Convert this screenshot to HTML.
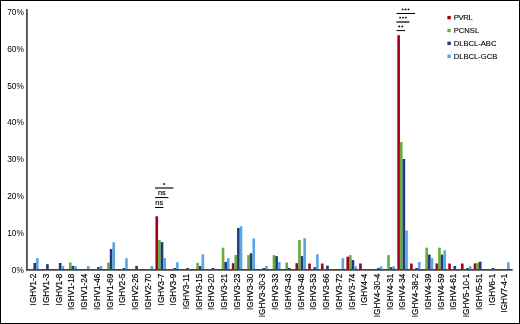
<!DOCTYPE html>
<html><head><meta charset="utf-8"><style>
html,body{margin:0;padding:0;background:#fff;}
body{width:520px;height:324px;overflow:hidden;position:relative;}
#f{position:absolute;left:0;top:0;width:518px;height:322px;border:1px solid #000;background:#fff;}
svg{position:absolute;left:0;top:0;will-change:transform;}
text{font-family:"Liberation Sans",sans-serif;fill:#000;}
</style></head><body><div id="f"></div>
<svg width="520" height="324" viewBox="0 0 520 324">
<rect x="33.40" y="262.90" width="2.63" height="6.20" fill="#1e3a78"/>
<rect x="36.03" y="258.10" width="2.63" height="11.00" fill="#5aa5e3"/>
<rect x="46.13" y="264.20" width="2.63" height="4.90" fill="#1e3a78"/>
<rect x="58.86" y="263.00" width="2.63" height="6.10" fill="#1e3a78"/>
<rect x="61.49" y="266.00" width="2.63" height="3.10" fill="#5aa5e3"/>
<rect x="68.96" y="262.40" width="2.63" height="6.70" fill="#68ad3c"/>
<rect x="71.59" y="265.90" width="2.63" height="3.20" fill="#1e3a78"/>
<rect x="74.22" y="266.10" width="2.63" height="3.00" fill="#5aa5e3"/>
<rect x="86.95" y="266.10" width="2.63" height="3.00" fill="#5aa5e3"/>
<rect x="97.05" y="267.10" width="2.63" height="2.00" fill="#1e3a78"/>
<rect x="99.68" y="266.10" width="2.63" height="3.00" fill="#5aa5e3"/>
<rect x="107.15" y="262.60" width="2.63" height="6.50" fill="#68ad3c"/>
<rect x="109.78" y="249.00" width="2.63" height="20.10" fill="#1e3a78"/>
<rect x="112.41" y="242.30" width="2.63" height="26.80" fill="#5aa5e3"/>
<rect x="122.51" y="268.00" width="2.63" height="1.10" fill="#1e3a78"/>
<rect x="125.14" y="258.20" width="2.63" height="10.90" fill="#5aa5e3"/>
<rect x="135.24" y="265.90" width="2.63" height="3.20" fill="#1e3a78"/>
<rect x="150.60" y="266.00" width="2.63" height="3.10" fill="#5aa5e3"/>
<rect x="155.44" y="216.30" width="2.63" height="52.80" fill="#a5001f"/>
<rect x="158.07" y="240.00" width="2.63" height="29.10" fill="#68ad3c"/>
<rect x="160.70" y="242.10" width="2.63" height="27.00" fill="#1e3a78"/>
<rect x="163.33" y="258.00" width="2.63" height="11.10" fill="#5aa5e3"/>
<rect x="173.43" y="268.00" width="2.63" height="1.10" fill="#1e3a78"/>
<rect x="176.06" y="262.20" width="2.63" height="6.90" fill="#5aa5e3"/>
<rect x="186.16" y="268.00" width="2.63" height="1.10" fill="#1e3a78"/>
<rect x="196.26" y="262.90" width="2.63" height="6.20" fill="#68ad3c"/>
<rect x="198.89" y="266.00" width="2.63" height="3.10" fill="#1e3a78"/>
<rect x="201.52" y="254.30" width="2.63" height="14.80" fill="#5aa5e3"/>
<rect x="211.62" y="268.00" width="2.63" height="1.10" fill="#1e3a78"/>
<rect x="221.72" y="247.70" width="2.63" height="21.40" fill="#68ad3c"/>
<rect x="224.35" y="261.90" width="2.63" height="7.20" fill="#1e3a78"/>
<rect x="226.98" y="258.10" width="2.63" height="11.00" fill="#5aa5e3"/>
<rect x="231.82" y="263.20" width="2.63" height="5.90" fill="#a5001f"/>
<rect x="234.45" y="255.00" width="2.63" height="14.10" fill="#68ad3c"/>
<rect x="237.08" y="228.00" width="2.63" height="41.10" fill="#1e3a78"/>
<rect x="239.71" y="226.30" width="2.63" height="42.80" fill="#5aa5e3"/>
<rect x="247.18" y="255.10" width="2.63" height="14.00" fill="#68ad3c"/>
<rect x="249.81" y="253.20" width="2.63" height="15.90" fill="#1e3a78"/>
<rect x="252.44" y="238.40" width="2.63" height="30.70" fill="#5aa5e3"/>
<rect x="262.54" y="268.00" width="2.63" height="1.10" fill="#1e3a78"/>
<rect x="265.17" y="266.00" width="2.63" height="3.10" fill="#5aa5e3"/>
<rect x="272.64" y="255.10" width="2.63" height="14.00" fill="#68ad3c"/>
<rect x="275.27" y="256.10" width="2.63" height="13.00" fill="#1e3a78"/>
<rect x="277.90" y="262.00" width="2.63" height="7.10" fill="#5aa5e3"/>
<rect x="285.37" y="262.60" width="2.63" height="6.50" fill="#68ad3c"/>
<rect x="288.00" y="268.00" width="2.63" height="1.10" fill="#1e3a78"/>
<rect x="295.47" y="263.20" width="2.63" height="5.90" fill="#a5001f"/>
<rect x="298.10" y="240.00" width="2.63" height="29.10" fill="#68ad3c"/>
<rect x="300.73" y="256.10" width="2.63" height="13.00" fill="#1e3a78"/>
<rect x="303.36" y="238.20" width="2.63" height="30.90" fill="#5aa5e3"/>
<rect x="308.20" y="263.50" width="2.63" height="5.60" fill="#a5001f"/>
<rect x="313.46" y="267.20" width="2.63" height="1.90" fill="#1e3a78"/>
<rect x="316.09" y="254.20" width="2.63" height="14.90" fill="#5aa5e3"/>
<rect x="320.93" y="263.50" width="2.63" height="5.60" fill="#a5001f"/>
<rect x="326.19" y="265.70" width="2.63" height="3.40" fill="#1e3a78"/>
<rect x="341.55" y="258.20" width="2.63" height="10.90" fill="#5aa5e3"/>
<rect x="346.39" y="256.70" width="2.63" height="12.40" fill="#a5001f"/>
<rect x="349.02" y="255.10" width="2.63" height="14.00" fill="#68ad3c"/>
<rect x="351.65" y="260.10" width="2.63" height="9.00" fill="#1e3a78"/>
<rect x="354.28" y="266.20" width="2.63" height="2.90" fill="#5aa5e3"/>
<rect x="359.12" y="263.50" width="2.63" height="5.60" fill="#a5001f"/>
<rect x="377.11" y="268.00" width="2.63" height="1.10" fill="#1e3a78"/>
<rect x="379.74" y="266.30" width="2.63" height="2.80" fill="#5aa5e3"/>
<rect x="387.21" y="255.10" width="2.63" height="14.00" fill="#68ad3c"/>
<rect x="389.84" y="267.20" width="2.63" height="1.90" fill="#1e3a78"/>
<rect x="392.47" y="266.30" width="2.63" height="2.80" fill="#5aa5e3"/>
<rect x="397.31" y="35.20" width="2.63" height="233.90" fill="#a5001f"/>
<rect x="399.94" y="142.00" width="2.63" height="127.10" fill="#68ad3c"/>
<rect x="402.57" y="159.00" width="2.63" height="110.10" fill="#1e3a78"/>
<rect x="405.20" y="230.40" width="2.63" height="38.70" fill="#5aa5e3"/>
<rect x="410.04" y="263.50" width="2.63" height="5.60" fill="#a5001f"/>
<rect x="415.30" y="268.00" width="2.63" height="1.10" fill="#1e3a78"/>
<rect x="417.93" y="262.00" width="2.63" height="7.10" fill="#5aa5e3"/>
<rect x="425.40" y="247.70" width="2.63" height="21.40" fill="#68ad3c"/>
<rect x="428.03" y="254.60" width="2.63" height="14.50" fill="#1e3a78"/>
<rect x="430.66" y="258.20" width="2.63" height="10.90" fill="#5aa5e3"/>
<rect x="435.50" y="263.50" width="2.63" height="5.60" fill="#a5001f"/>
<rect x="438.13" y="247.70" width="2.63" height="21.40" fill="#68ad3c"/>
<rect x="440.76" y="254.60" width="2.63" height="14.50" fill="#1e3a78"/>
<rect x="443.39" y="250.30" width="2.63" height="18.80" fill="#5aa5e3"/>
<rect x="448.23" y="263.50" width="2.63" height="5.60" fill="#a5001f"/>
<rect x="453.49" y="266.00" width="2.63" height="3.10" fill="#1e3a78"/>
<rect x="460.96" y="263.50" width="2.63" height="5.60" fill="#a5001f"/>
<rect x="466.22" y="268.00" width="2.63" height="1.10" fill="#1e3a78"/>
<rect x="468.85" y="266.20" width="2.63" height="2.90" fill="#5aa5e3"/>
<rect x="473.69" y="263.40" width="2.63" height="5.70" fill="#a5001f"/>
<rect x="476.32" y="262.70" width="2.63" height="6.40" fill="#68ad3c"/>
<rect x="478.95" y="261.70" width="2.63" height="7.40" fill="#1e3a78"/>
<rect x="491.68" y="268.00" width="2.63" height="1.10" fill="#1e3a78"/>
<rect x="507.04" y="262.20" width="2.63" height="6.90" fill="#5aa5e3"/>
<line x1="26.90" y1="9" x2="26.90" y2="270.65" stroke="#444" stroke-width="1.70"/>
<line x1="26.05" y1="269.80" x2="512.7" y2="269.80" stroke="#444" stroke-width="1.70"/>
<text x="23.8" y="272.80" font-size="8.30" text-anchor="end">0%</text>
<text x="23.8" y="235.94" font-size="8.30" text-anchor="end">10%</text>
<text x="23.8" y="199.08" font-size="8.30" text-anchor="end">20%</text>
<text x="23.8" y="162.22" font-size="8.30" text-anchor="end">30%</text>
<text x="23.8" y="125.36" font-size="8.30" text-anchor="end">40%</text>
<text x="23.8" y="88.50" font-size="8.30" text-anchor="end">50%</text>
<text x="23.8" y="51.64" font-size="8.30" text-anchor="end">60%</text>
<text x="23.8" y="14.78" font-size="8.30" text-anchor="end">70%</text>
<text transform="translate(36.25,273.6) rotate(-90) scale(1.022,1.200)" font-size="8.00" text-anchor="end" stroke="#000" stroke-width="0.15">IGHV1-2</text>
<text transform="translate(48.98,273.6) rotate(-90) scale(1.022,1.200)" font-size="8.00" text-anchor="end" stroke="#000" stroke-width="0.15">IGHV1-3</text>
<text transform="translate(61.71,273.6) rotate(-90) scale(1.022,1.200)" font-size="8.00" text-anchor="end" stroke="#000" stroke-width="0.15">IGHV1-8</text>
<text transform="translate(74.44,273.6) rotate(-90) scale(1.022,1.200)" font-size="8.00" text-anchor="end" stroke="#000" stroke-width="0.15">IGHV1-18</text>
<text transform="translate(87.17,273.6) rotate(-90) scale(1.022,1.200)" font-size="8.00" text-anchor="end" stroke="#000" stroke-width="0.15">IGHV1-24</text>
<text transform="translate(99.90,273.6) rotate(-90) scale(1.022,1.200)" font-size="8.00" text-anchor="end" stroke="#000" stroke-width="0.15">IGHV1-46</text>
<text transform="translate(112.63,273.6) rotate(-90) scale(1.022,1.200)" font-size="8.00" text-anchor="end" stroke="#000" stroke-width="0.15">IGHV1-69</text>
<text transform="translate(125.36,273.6) rotate(-90) scale(1.022,1.200)" font-size="8.00" text-anchor="end" stroke="#000" stroke-width="0.15">IGHV2-5</text>
<text transform="translate(138.09,273.6) rotate(-90) scale(1.022,1.200)" font-size="8.00" text-anchor="end" stroke="#000" stroke-width="0.15">IGHV2-26</text>
<text transform="translate(150.82,273.6) rotate(-90) scale(1.022,1.200)" font-size="8.00" text-anchor="end" stroke="#000" stroke-width="0.15">IGHV2-70</text>
<text transform="translate(163.55,273.6) rotate(-90) scale(1.022,1.200)" font-size="8.00" text-anchor="end" stroke="#000" stroke-width="0.15">IGHV3-7</text>
<text transform="translate(176.28,273.6) rotate(-90) scale(1.022,1.200)" font-size="8.00" text-anchor="end" stroke="#000" stroke-width="0.15">IGHV3-9</text>
<text transform="translate(189.01,273.6) rotate(-90) scale(1.022,1.200)" font-size="8.00" text-anchor="end" stroke="#000" stroke-width="0.15">IGHV3-11</text>
<text transform="translate(201.74,273.6) rotate(-90) scale(1.022,1.200)" font-size="8.00" text-anchor="end" stroke="#000" stroke-width="0.15">IGHV3-15</text>
<text transform="translate(214.47,273.6) rotate(-90) scale(1.022,1.200)" font-size="8.00" text-anchor="end" stroke="#000" stroke-width="0.15">IGHV3-20</text>
<text transform="translate(227.20,273.6) rotate(-90) scale(1.022,1.200)" font-size="8.00" text-anchor="end" stroke="#000" stroke-width="0.15">IGHV3-21</text>
<text transform="translate(239.93,273.6) rotate(-90) scale(1.022,1.200)" font-size="8.00" text-anchor="end" stroke="#000" stroke-width="0.15">IGHV3-23</text>
<text transform="translate(252.66,273.6) rotate(-90) scale(1.022,1.200)" font-size="8.00" text-anchor="end" stroke="#000" stroke-width="0.15">IGHV3-30</text>
<text transform="translate(265.39,273.6) rotate(-90) scale(1.022,1.200)" font-size="8.00" text-anchor="end" stroke="#000" stroke-width="0.15">IGHV3-30-3</text>
<text transform="translate(278.12,273.6) rotate(-90) scale(1.022,1.200)" font-size="8.00" text-anchor="end" stroke="#000" stroke-width="0.15">IGHV3-33</text>
<text transform="translate(290.85,273.6) rotate(-90) scale(1.022,1.200)" font-size="8.00" text-anchor="end" stroke="#000" stroke-width="0.15">IGHV3-43</text>
<text transform="translate(303.58,273.6) rotate(-90) scale(1.022,1.200)" font-size="8.00" text-anchor="end" stroke="#000" stroke-width="0.15">IGHV3-48</text>
<text transform="translate(316.31,273.6) rotate(-90) scale(1.022,1.200)" font-size="8.00" text-anchor="end" stroke="#000" stroke-width="0.15">IGHV3-53</text>
<text transform="translate(329.04,273.6) rotate(-90) scale(1.022,1.200)" font-size="8.00" text-anchor="end" stroke="#000" stroke-width="0.15">IGHV3-66</text>
<text transform="translate(341.77,273.6) rotate(-90) scale(1.022,1.200)" font-size="8.00" text-anchor="end" stroke="#000" stroke-width="0.15">IGHV3-72</text>
<text transform="translate(354.50,273.6) rotate(-90) scale(1.022,1.200)" font-size="8.00" text-anchor="end" stroke="#000" stroke-width="0.15">IGHV3-74</text>
<text transform="translate(367.23,273.6) rotate(-90) scale(1.022,1.200)" font-size="8.00" text-anchor="end" stroke="#000" stroke-width="0.15">IGHV4-4</text>
<text transform="translate(379.96,273.6) rotate(-90) scale(1.022,1.200)" font-size="8.00" text-anchor="end" stroke="#000" stroke-width="0.15">IGHV4-30-4</text>
<text transform="translate(392.69,273.6) rotate(-90) scale(1.022,1.200)" font-size="8.00" text-anchor="end" stroke="#000" stroke-width="0.15">IGHV4-31</text>
<text transform="translate(405.42,273.6) rotate(-90) scale(1.022,1.200)" font-size="8.00" text-anchor="end" stroke="#000" stroke-width="0.15">IGHV4-34</text>
<text transform="translate(418.15,273.6) rotate(-90) scale(1.022,1.200)" font-size="8.00" text-anchor="end" stroke="#000" stroke-width="0.15">IGHV4-38-2</text>
<text transform="translate(430.88,273.6) rotate(-90) scale(1.022,1.200)" font-size="8.00" text-anchor="end" stroke="#000" stroke-width="0.15">IGHV4-39</text>
<text transform="translate(443.61,273.6) rotate(-90) scale(1.022,1.200)" font-size="8.00" text-anchor="end" stroke="#000" stroke-width="0.15">IGHV4-59</text>
<text transform="translate(456.34,273.6) rotate(-90) scale(1.022,1.200)" font-size="8.00" text-anchor="end" stroke="#000" stroke-width="0.15">IGHV4-61</text>
<text transform="translate(469.07,273.6) rotate(-90) scale(1.022,1.200)" font-size="8.00" text-anchor="end" stroke="#000" stroke-width="0.15">IGHV5-10-1</text>
<text transform="translate(481.80,273.6) rotate(-90) scale(1.022,1.200)" font-size="8.00" text-anchor="end" stroke="#000" stroke-width="0.15">IGHV5-51</text>
<text transform="translate(494.53,273.6) rotate(-90) scale(1.022,1.200)" font-size="8.00" text-anchor="end" stroke="#000" stroke-width="0.15">IGHV6-1</text>
<text transform="translate(507.26,273.6) rotate(-90) scale(1.022,1.200)" font-size="8.00" text-anchor="end" stroke="#000" stroke-width="0.15">IGHV7-4-1</text>
<rect x="447.4" y="15.90" width="3.4" height="3.4" fill="#a5001f"/>
<text x="453.8" y="19.90" font-size="7.6" stroke="#000" stroke-width="0.12" letter-spacing="-0.3">PVRL</text>
<rect x="447.4" y="28.78" width="3.4" height="3.4" fill="#68ad3c"/>
<text x="453.8" y="32.78" font-size="7.6" stroke="#000" stroke-width="0.12">PCNSL</text>
<rect x="447.4" y="41.66" width="3.4" height="3.4" fill="#1e3a78"/>
<text x="453.8" y="45.66" font-size="7.6" stroke="#000" stroke-width="0.12">DLBCL-ABC</text>
<rect x="447.4" y="54.54" width="3.4" height="3.4" fill="#5aa5e3"/>
<text x="453.8" y="58.54" font-size="7.6" stroke="#000" stroke-width="0.12">DLBCL-GCB</text>
<line x1="155.00" y1="188.00" x2="173.50" y2="188.00" stroke="#222" stroke-width="1.30"/>
<circle cx="164.20" cy="184.00" r="0.90" fill="#000"/>
<line x1="155.00" y1="197.60" x2="168.40" y2="197.60" stroke="#000" stroke-width="1.00"/>
<text x="161.80" y="195.10" font-size="7.40" text-anchor="middle" stroke="#000" stroke-width="0.15">ns</text>
<line x1="155.00" y1="207.50" x2="163.40" y2="207.50" stroke="#000" stroke-width="1.00"/>
<text x="159.20" y="205.00" font-size="7.40" text-anchor="middle" stroke="#000" stroke-width="0.15">ns</text>
<line x1="396.50" y1="13.50" x2="415.00" y2="13.50" stroke="#000" stroke-width="1.00"/>
<circle cx="402.70" cy="9.40" r="0.95" fill="#000"/>
<circle cx="405.60" cy="9.40" r="0.95" fill="#000"/>
<circle cx="408.50" cy="9.40" r="0.95" fill="#000"/>
<line x1="396.40" y1="22.00" x2="409.40" y2="22.00" stroke="#222" stroke-width="1.40"/>
<circle cx="400.10" cy="17.60" r="0.95" fill="#000"/>
<circle cx="403.00" cy="17.60" r="0.95" fill="#000"/>
<circle cx="405.80" cy="17.60" r="0.95" fill="#000"/>
<line x1="396.50" y1="30.60" x2="405.10" y2="30.60" stroke="#000" stroke-width="1.00"/>
<circle cx="399.20" cy="26.40" r="0.95" fill="#000"/>
<circle cx="402.30" cy="26.40" r="0.95" fill="#000"/>
</svg>
</body></html>
